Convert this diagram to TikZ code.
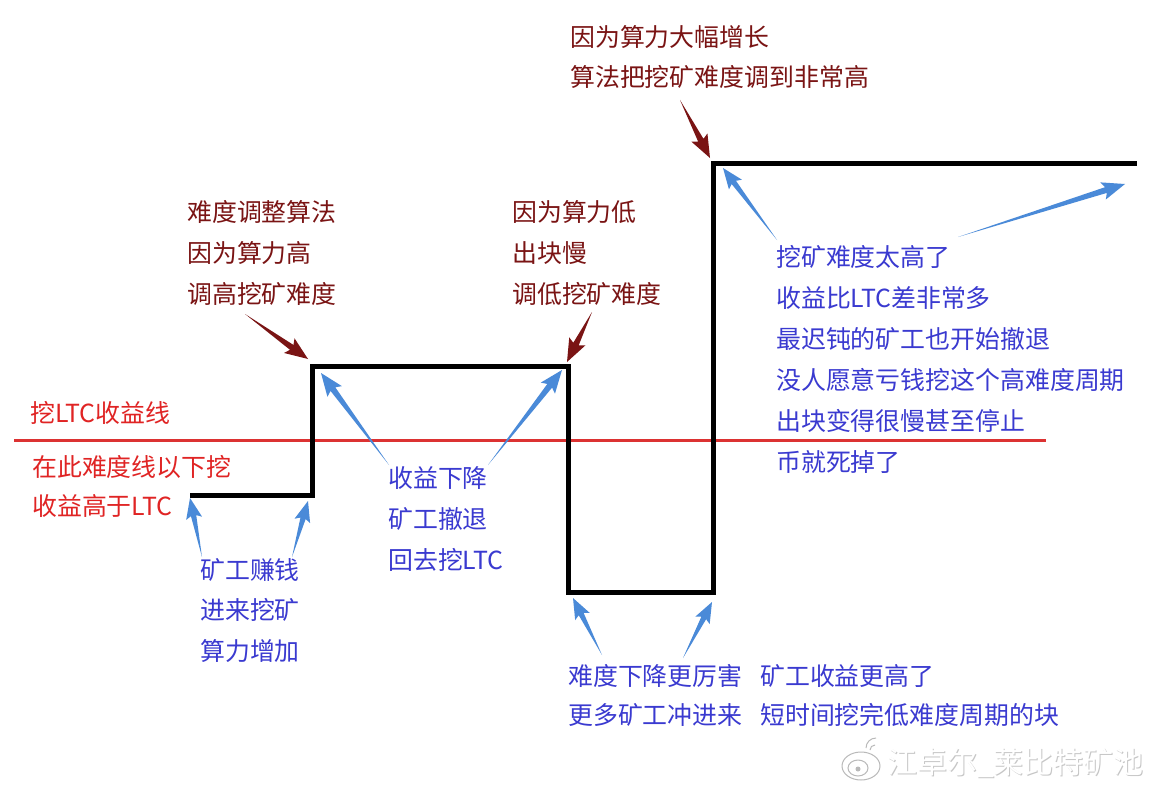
\documentclass[tikz,border=0pt]{standalone}
\usepackage{fontspec}
\setmainfont{Noto Sans CJK SC}
\usetikzlibrary{calc}
\definecolor{dred}{HTML}{7A1414}
\definecolor{tblue}{HTML}{3A3AD0}
\definecolor{ablue}{HTML}{4A8AD8}
\definecolor{tred}{HTML}{E02424}
\definecolor{lred}{HTML}{DC3232}
\newcommand\tarrow[4]{% #1 tail, #2 tip, #3 colour, #4 scale
  \fill[#3]
    (#1)
    -- ($($(#2)!#4*20pt!(#1)$)!#4*3pt!90:(#2)$)
    -- ($($(#2)!#4*23pt!(#1)$)!#4*9pt!90:(#2)$)
    -- (#2)
    -- ($($(#2)!#4*23pt!(#1)$)!#4*9pt!-90:(#2)$)
    -- ($($(#2)!#4*20pt!(#1)$)!#4*3pt!-90:(#2)$)
    -- cycle;}
\begin{document}
\begin{tikzpicture}[x=1pt,y=-1pt,
  txt/.style={anchor=base west,inner sep=0pt,font=\fontsize{24.9}{24.9}\selectfont},
  redtxt/.style={txt,text=dred},
  bluetxt/.style={txt,text=tblue},
  ltxt/.style={txt,text=tred}]
\useasboundingbox[fill=white] (0,0) rectangle (1161,789);

% red profit line
\coordinate (r1) at (14,440);
\coordinate (r2) at (1046,440);
\draw[lred,line width=3pt] (r1) -- (r2);

% difficulty curve
\coordinate (p0) at (190,495);
\coordinate (p1) at (312,495);
\coordinate (p2) at (312,366);
\coordinate (p3) at (568,366);
\coordinate (p4) at (568,592);
\coordinate (p5) at (713,592);
\coordinate (p6) at (713,163);
\coordinate (p7) at (1137,163);
\draw[black,line width=5pt,line join=miter] (p0) -- (p1) -- (p2) -- (p3) -- (p4) -- (p5) -- (p6) -- (p7);

% dark red texts
\node[redtxt] (t1a) at (570,47) {因为算力大幅增长};
\node[redtxt] (t1b) at (570,87) {算法把挖矿难度调到非常高};
\node[redtxt] (t2a) at (187,221) {难度调整算法};
\node[redtxt] (t2b) at (187,262) {因为算力高};
\node[redtxt] (t2c) at (187,303) {调高挖矿难度};
\node[redtxt] (t3a) at (512,221) {因为算力低};
\node[redtxt] (t3b) at (512,262) {出块慢};
\node[redtxt] (t3c) at (512,303) {调低挖矿难度};

% red texts
\node[ltxt] (l1) at (30,422) {挖LTC收益线};
\node[ltxt] (l2) at (32,476) {在此难度线以下挖};
\node[ltxt] (l3) at (32,515) {收益高于LTC};

% blue texts
\node[bluetxt] (b1a) at (200,579) {矿工赚钱};
\node[bluetxt] (b1b) at (200,619) {进来挖矿};
\node[bluetxt] (b1c) at (200,660) {算力增加};
\node[bluetxt] (b2a) at (388,487) {收益下降};
\node[bluetxt] (b2b) at (388,528) {矿工撤退};
\node[bluetxt] (b2c) at (388,569) {回去挖LTC};
\node[bluetxt] (b3a) at (776,266) {挖矿难度太高了};
\node[bluetxt] (b3b) at (776,307) {收益比LTC差非常多};
\node[bluetxt] (b3c) at (776,348) {最迟钝的矿工也开始撤退};
\node[bluetxt] (b3d) at (776,389) {没人愿意亏钱挖这个高难度周期};
\node[bluetxt] (b3e) at (776,430) {出块变得很慢甚至停止};
\node[bluetxt] (b3f) at (776,471) {币就死掉了};
\node[bluetxt] (b4a) at (568,685) {难度下降更厉害};
\node[bluetxt] (b4b) at (568,724) {更多矿工冲进来};
\node[bluetxt] (b5a) at (760,685) {矿工收益更高了};
\node[bluetxt] (b5b) at (760,724) {短时间挖完低难度周期的块};

% dark red arrows
\coordinate (d1s) at (245,314); \coordinate (d1e) at (308,359);
\coordinate (d2s) at (592,312); \coordinate (d2e) at (567,362);
\coordinate (d3s) at (680,100); \coordinate (d3e) at (710,158);
\tarrow{d1s}{d1e}{dred}{1}
\tarrow{d2s}{d2e}{dred}{1}
\tarrow{d3s}{d3e}{dred}{1}

% blue arrows
\coordinate (a1s) at (202,557); \coordinate (a1e) at (190,498);
\coordinate (a2s) at (292,557); \coordinate (a2e) at (308,501);
\coordinate (a3s) at (389,465); \coordinate (a3e) at (321,373);
\coordinate (a4s) at (488,465); \coordinate (a4e) at (562,370);
\coordinate (a5s) at (777,240); \coordinate (a5e) at (723,168);
\coordinate (a6s) at (958,237); \coordinate (a6e) at (1125,184);
\coordinate (a7s) at (602,655); \coordinate (a7e) at (573,598);
\coordinate (a8s) at (683,658); \coordinate (a8e) at (712,602);
\tarrow{a1s}{a1e}{ablue}{0.9}
\tarrow{a2s}{a2e}{ablue}{0.9}
\tarrow{a3s}{a3e}{ablue}{1}
\tarrow{a4s}{a4e}{ablue}{1}
\tarrow{a5s}{a5e}{ablue}{0.9}
\tarrow{a6s}{a6e}{ablue}{1}
\tarrow{a7s}{a7e}{ablue}{0.9}
\tarrow{a8s}{a8e}{ablue}{0.9}

% watermark
\begin{scope}[gray!55,line width=1pt]
\draw (861,766) ellipse[x radius=19pt,y radius=14pt];
\draw (858,768) ellipse[x radius=10pt,y radius=8pt];
\fill (858,769) circle[radius=2.5pt];
\draw (866,748) arc[start angle=180,end angle=90,radius=10pt];
\draw (870,750) arc[start angle=180,end angle=90,radius=5pt];
\end{scope}
\node[anchor=base west,inner sep=0pt,font=\fontsize{30}{30}\selectfont,text=gray!45] (wm0) at (888,774) {江卓尔\_莱比特矿池};
\node[anchor=base west,inner sep=0pt,font=\fontsize{30}{30}\selectfont,text=white] (wm) at (887,773) {江卓尔\_莱比特矿池};
\end{tikzpicture}
\end{document}
